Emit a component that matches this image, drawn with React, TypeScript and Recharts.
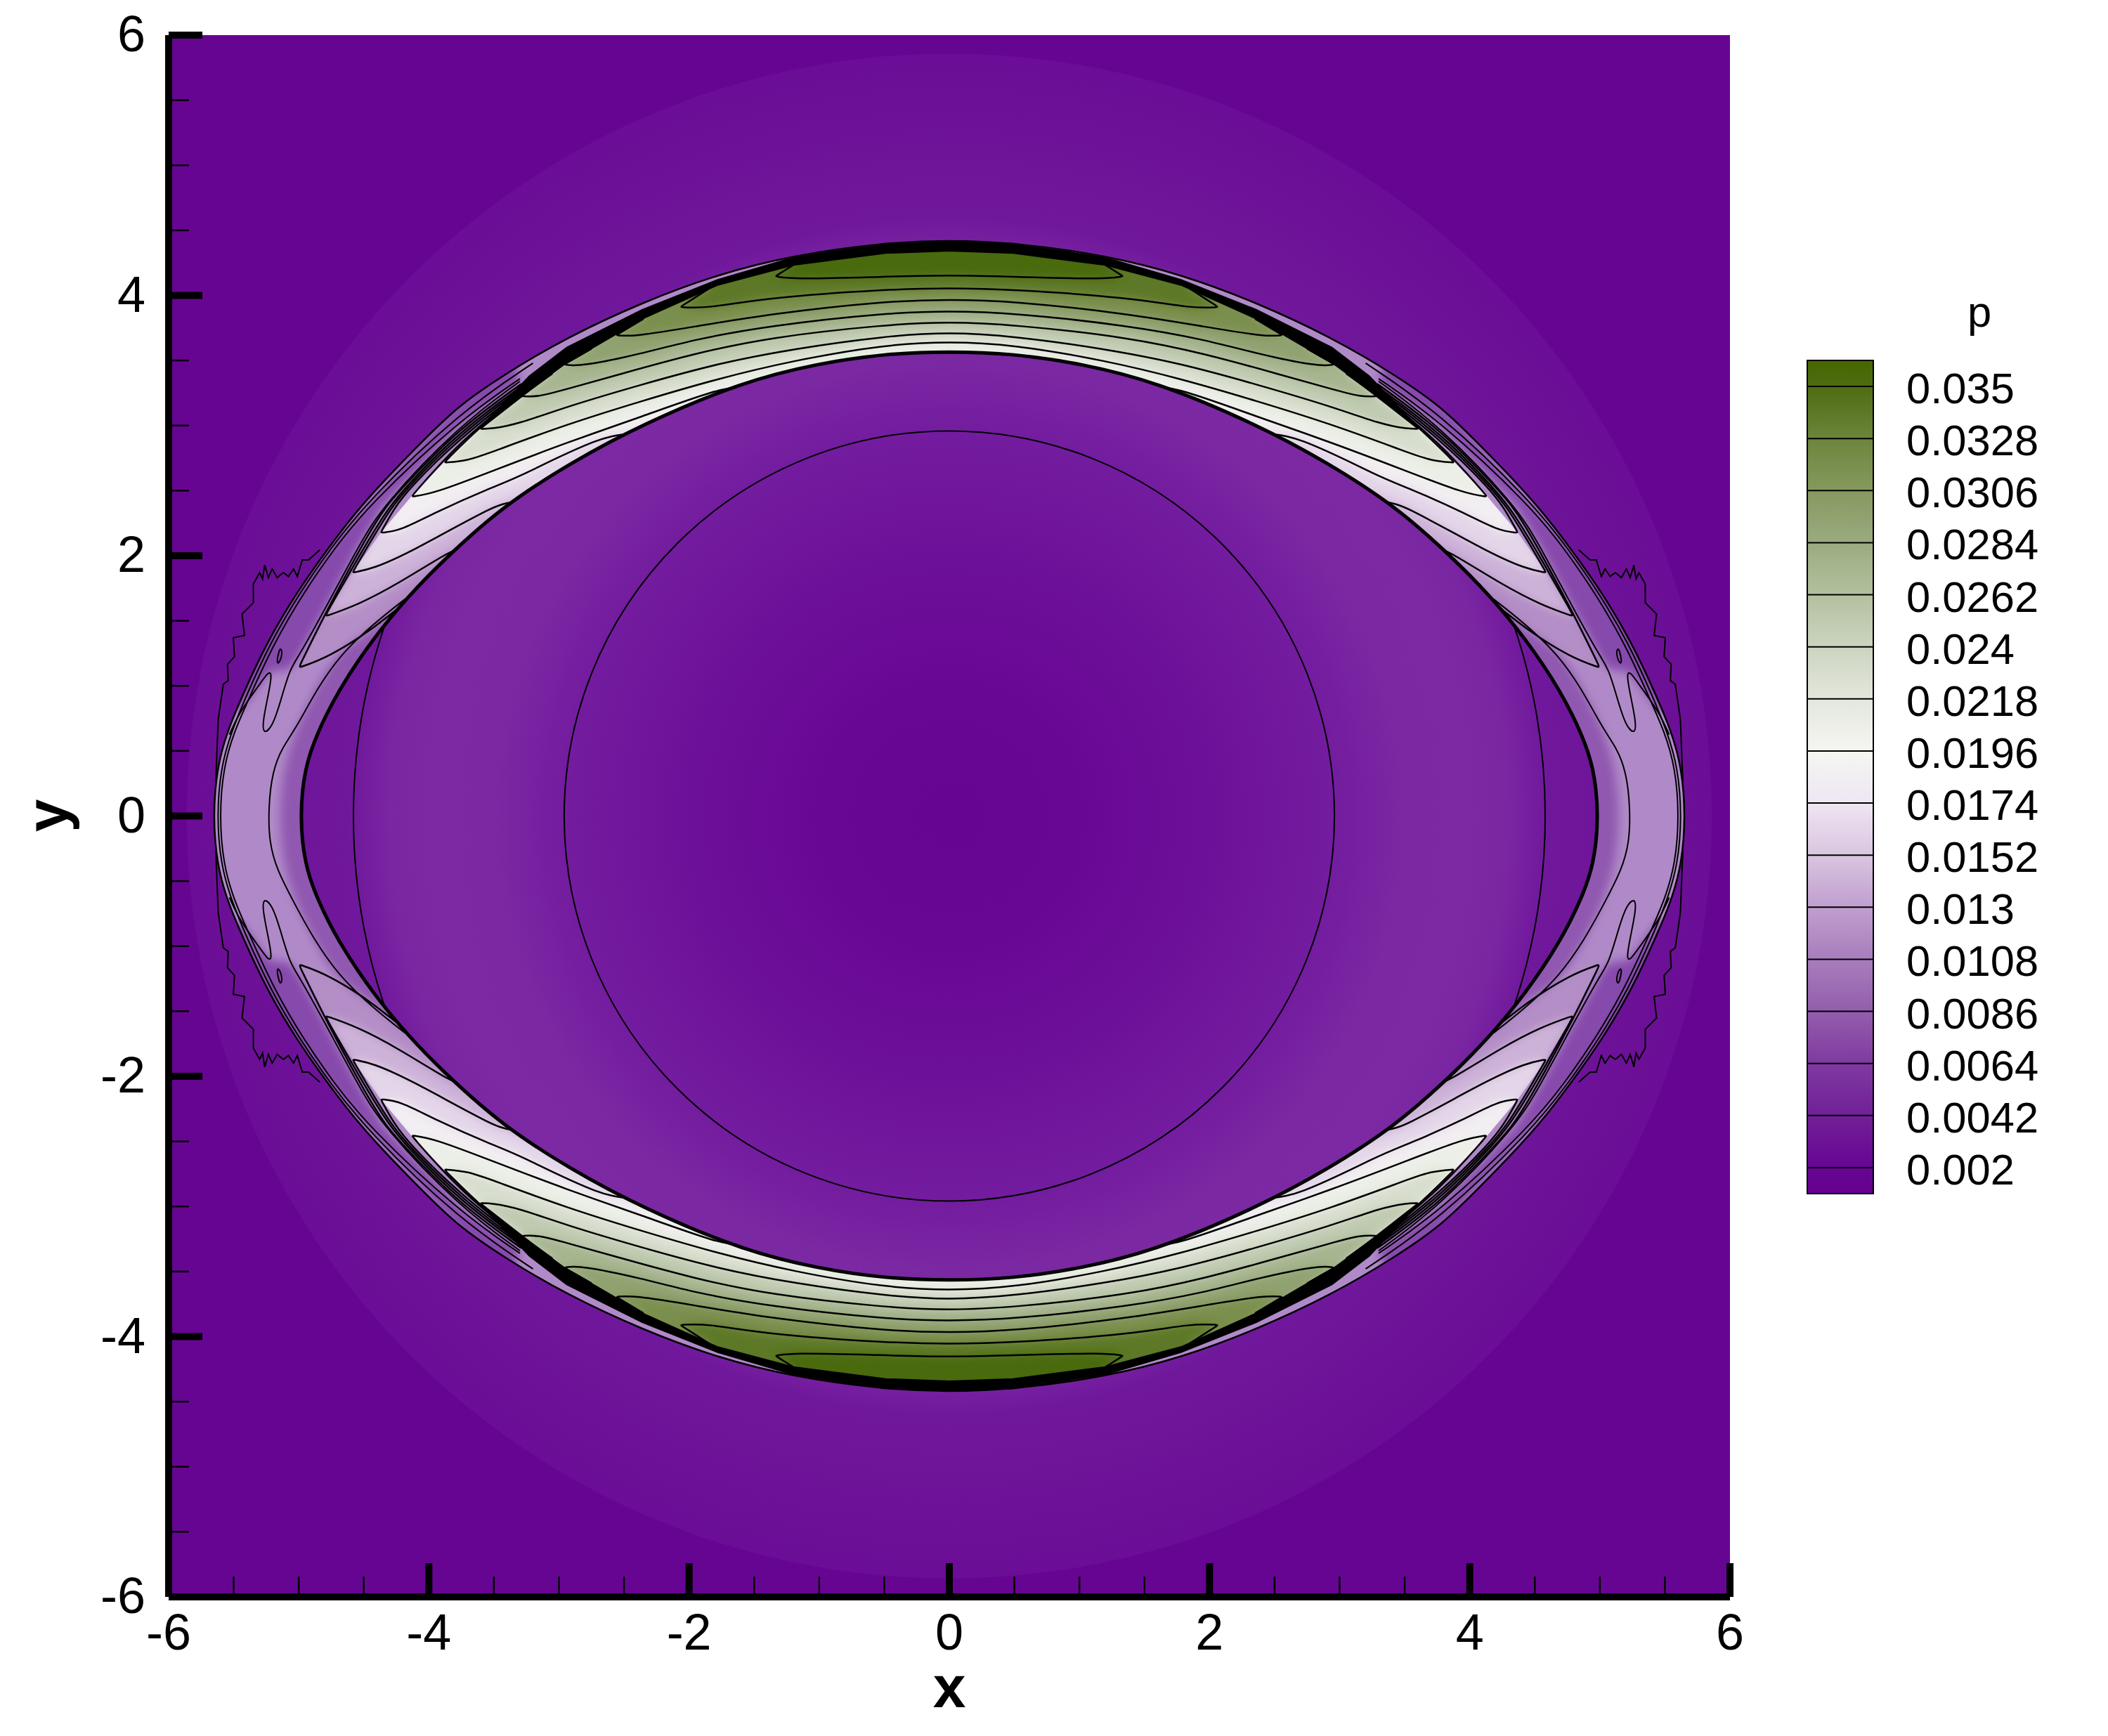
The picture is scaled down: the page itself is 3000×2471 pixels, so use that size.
import { Curve, Scatter, ScatterChart, XAxis, YAxis } from "recharts"

type Pair = [number, number]

const xTicks = [-6, -5.5, -5, -4.5, -4, -3.5, -3, -2.5, -2, -1.5, -1, -0.5, 0, 0.5, 1, 1.5, 2, 2.5, 3, 3.5, 4, 4.5, 5, 5.5, 6]
const yTicks = [-6, -5.5, -5, -4.5, -4, -3.5, -3, -2.5, -2, -1.5, -1, -0.5, 0, 0.5, 1, 1.5, 2, 2.5, 3, 3.5, 4, 4.5, 5, 5.5, 6]
const pLevels = [0.035, 0.0328, 0.0306, 0.0284, 0.0262, 0.024, 0.0218, 0.0196, 0.0174, 0.0152, 0.013, 0.0108, 0.0086, 0.0064, 0.0042, 0.002]
const pColors = ["#4e6c12", "#6c853c", "#86995f", "#9aab7f", "#b3c09f", "#ccd4c0", "#e3e7dc", "#f5f6f2", "#efe6f2", "#d9c5e0", "#c09fcf", "#a87dbc", "#935ead", "#7f3aa0", "#712097", "#670593"]
const pBarRange: Pair = [0.0009, 0.0361]

const plotRect: Pair[] = [[-6, -6], [6, -6], [6, 6], [-6, 6]]
const leftAxisLine: Pair[] = [[-6, -6], [-6, 6]]
const bottomAxisLine: Pair[] = [[-6, -6], [6, -6]]
const discSpan: Pair[] = [[0, 0], [5.86, 0]]
const circleInner: Pair[] = [[0, 0], [2.96, 0]]
const circleOuter: Pair[] = [[0, 0], [4.58, 0]]

const outerLens: Pair[] = [
  [-5.66, 0], [-5.628, 0.378], [-5.55, 0.648], [-5.437, 0.918], [-5.243, 1.339], [-5.01, 1.728], [-4.778, 2.052], [-4.5, 2.42], [-4, 2.93], [-3.77, 3.153], [-3.41, 3.4], [-2.94, 3.677], [-2.36, 3.947], [-1.78, 4.163], [-1.2, 4.309], [-0.49, 4.406], [0, 4.424],
  [0.49, 4.406], [1.2, 4.309], [1.78, 4.163], [2.36, 3.947], [2.94, 3.677], [3.41, 3.4], [3.77, 3.153], [4, 2.93], [4.5, 2.42], [4.778, 2.052], [5.01, 1.728], [5.243, 1.339], [5.437, 0.918], [5.55, 0.648], [5.628, 0.378],
  [5.66, 0], [5.628, -0.378], [5.55, -0.648], [5.437, -0.918], [5.243, -1.339], [5.01, -1.728], [4.778, -2.052], [4.5, -2.42], [4, -2.93], [3.77, -3.153], [3.41, -3.4], [2.94, -3.677], [2.36, -3.947], [1.78, -4.163], [1.2, -4.309], [0.49, -4.406], [0, -4.424],
  [-0.49, -4.406], [-1.2, -4.309], [-1.78, -4.163], [-2.36, -3.947], [-2.94, -3.677], [-3.41, -3.4], [-3.77, -3.153], [-4, -2.93], [-4.5, -2.42], [-4.778, -2.052], [-5.01, -1.728], [-5.243, -1.339], [-5.437, -0.918], [-5.55, -0.648], [-5.628, -0.378],
]
const innerLens: Pair[] = [
  [-4.993, 0], [-4.954, 0.378], [-4.858, 0.637], [-4.703, 0.955], [-4.433, 1.36], [-4.144, 1.706], [-3.855, 1.998], [-3.43, 2.381], [-2.9, 2.72], [-2.36, 3.01], [-1.59, 3.337], [-1.01, 3.477], [-0.49, 3.553], [0, 3.57],
  [0.49, 3.553], [1.01, 3.477], [1.59, 3.337], [2.36, 3.01], [2.9, 2.72], [3.43, 2.381], [3.855, 1.998], [4.144, 1.706], [4.433, 1.36], [4.703, 0.955], [4.858, 0.637], [4.954, 0.378],
  [4.993, 0], [4.954, -0.378], [4.858, -0.637], [4.703, -0.955], [4.433, -1.36], [4.144, -1.706], [3.855, -1.998], [3.43, -2.381], [2.9, -2.72], [2.36, -3.01], [1.59, -3.337], [1.01, -3.477], [0.49, -3.553], [0, -3.57],
  [-0.49, -3.553], [-1.01, -3.477], [-1.59, -3.337], [-2.36, -3.01], [-2.9, -2.72], [-3.43, -2.381], [-3.855, -1.998], [-4.144, -1.706], [-4.433, -1.36], [-4.703, -0.955], [-4.858, -0.637], [-4.954, -0.378],
]
// inner edge of the fan of tight contours, runs through the contour tips
const innerShock: Pair[] = [
  [-5, 1.14], [-4.8, 1.533], [-4.587, 1.87], [-4.37, 2.176], [-4.135, 2.453], [-3.884, 2.715], [-3.607, 2.975], [-3.29, 3.227], [-2.96, 3.47], [-2.36, 3.82], [-1.78, 4.08], [-1.2, 4.233], [-0.49, 4.325], [0, 4.343],
  [0.49, 4.325], [1.2, 4.233], [1.78, 4.08], [2.36, 3.82], [2.96, 3.47], [3.29, 3.227], [3.607, 2.975], [3.884, 2.715], [4.135, 2.453], [4.37, 2.176], [4.587, 1.87], [4.8, 1.533], [5, 1.14],
  [5, -1.14], [4.8, -1.533], [4.587, -1.87], [4.37, -2.176], [4.135, -2.453], [3.884, -2.715], [3.607, -2.975], [3.29, -3.227], [2.96, -3.47], [2.36, -3.82], [1.78, -4.08], [1.2, -4.233], [0.49, -4.325], [0, -4.343],
  [-0.49, -4.325], [-1.2, -4.233], [-1.78, -4.08], [-2.36, -3.82], [-2.96, -3.47], [-3.29, -3.227], [-3.607, -2.975], [-3.884, -2.715], [-4.135, -2.453], [-4.37, -2.176], [-4.587, -1.87], [-4.8, -1.533], [-5, -1.14],
]
const blackBandTop: Pair[] = [
  [-3.6, 2.99], [-3.227, 3.38], [-2.94, 3.6], [-2.36, 3.89], [-1.78, 4.12], [-1.2, 4.29], [-0.49, 4.4], [0, 4.41], [0.49, 4.4], [1.2, 4.29], [1.78, 4.12], [2.36, 3.89], [2.94, 3.6], [3.227, 3.38], [3.6, 2.99],
  [3.29, 3.227], [2.96, 3.47], [2.36, 3.82], [1.78, 4.08], [1.2, 4.233], [0.49, 4.325], [0, 4.343], [-0.49, 4.325], [-1.2, 4.233], [-1.78, 4.08], [-2.36, 3.82], [-2.96, 3.47], [-3.29, 3.227],
]
const blackBandBottom: Pair[] = [
  [-3.6, -2.99], [-3.227, -3.38], [-2.94, -3.6], [-2.36, -3.89], [-1.78, -4.12], [-1.2, -4.29], [-0.49, -4.4], [0, -4.41], [0.49, -4.4], [1.2, -4.29], [1.78, -4.12], [2.36, -3.89], [2.94, -3.6], [3.227, -3.38], [3.6, -2.99],
  [3.29, -3.227], [2.96, -3.47], [2.36, -3.82], [1.78, -4.08], [1.2, -4.233], [0.49, -4.325], [0, -4.343], [-0.49, -4.325], [-1.2, -4.233], [-1.78, -4.08], [-2.36, -3.82], [-2.96, -3.47], [-3.29, -3.227],
]
const outerInsetLeft: Pair[] = [[-3.2, 3.48], [-3.767, 3.1], [-4.47, 2.42], [-4.76, 2.05], [-4.99, 1.72], [-5.22, 1.33], [-5.41, 0.91], [-5.52, 0.64], [-5.6, 0.37], [-5.63, 0], [-5.6, -0.37], [-5.52, -0.64], [-5.41, -0.91], [-5.22, -1.33], [-4.99, -1.72], [-4.76, -2.05], [-4.47, -2.42], [-3.767, -3.1], [-3.2, -3.48]]
const outerInsetRight: Pair[] = [[3.2, 3.48], [3.767, 3.1], [4.47, 2.42], [4.76, 2.05], [4.99, 1.72], [5.22, 1.33], [5.41, 0.91], [5.52, 0.64], [5.6, 0.37], [5.63, 0], [5.6, -0.37], [5.52, -0.64], [5.41, -0.91], [5.22, -1.33], [4.99, -1.72], [4.76, -2.05], [4.47, -2.42], [3.767, -3.1], [3.2, -3.48]]
const secondInsetLeft: Pair[] = [[-3.3, 3.36], [-3.767, 3.04], [-4.47, 2.38], [-4.73, 2.05], [-4.96, 1.72], [-5.19, 1.33], [-5.38, 0.91], [-5.5, 0.64], [-5.58, 0.37], [-5.61, 0], [-5.58, -0.37], [-5.5, -0.64], [-5.38, -0.91], [-5.19, -1.33], [-4.96, -1.72], [-4.73, -2.05], [-4.47, -2.38], [-3.767, -3.04], [-3.3, -3.36]]
const secondInsetRight: Pair[] = [[3.3, 3.36], [3.767, 3.04], [4.47, 2.38], [4.73, 2.05], [4.96, 1.72], [5.19, 1.33], [5.38, 0.91], [5.5, 0.64], [5.58, 0.37], [5.61, 0], [5.58, -0.37], [5.5, -0.64], [5.38, -0.91], [5.19, -1.33], [4.96, -1.72], [4.73, -2.05], [4.47, -2.38], [3.767, -3.04], [3.3, -3.36]]

// darker strip between the outer shock and the fan of contours
const stripTL: Pair[] = [[-5.455, 0.8], [-5.3, 1.012], [-5.22, 1.11], [-5.07, 1.128], [-5.002, 1.224], [-4.819, 1.552], [-4.53, 2.092], [-4.356, 2.381], [-3.767, 3], [-3.3, 3.34], [-3.4, 3.6], [-5.2, 1.6], [-5.6, 0.9]]
const stripTR: Pair[] = [[5.455, 0.8], [5.3, 1.012], [5.22, 1.11], [5.07, 1.128], [5.002, 1.224], [4.819, 1.552], [4.53, 2.092], [4.356, 2.381], [3.767, 3], [3.3, 3.34], [3.4, 3.6], [5.2, 1.6], [5.6, 0.9]]
const stripBL: Pair[] = [[-5.455, -0.8], [-5.3, -1.012], [-5.22, -1.11], [-5.07, -1.128], [-5.002, -1.224], [-4.819, -1.552], [-4.53, -2.092], [-4.356, -2.381], [-3.767, -3], [-3.3, -3.34], [-3.4, -3.6], [-5.2, -1.6], [-5.6, -0.9]]
const stripBR: Pair[] = [[5.455, -0.8], [5.3, -1.012], [5.22, -1.11], [5.07, -1.128], [5.002, -1.224], [4.819, -1.552], [4.53, -2.092], [4.356, -2.381], [3.767, -3], [3.3, -3.34], [3.4, -3.6], [5.2, -1.6], [5.6, -0.9]]

const topD: Pair[] = [[-3.29, 3.32], [-3.767, 2.975], [-4.15, 2.58], [-4.335, 2.381], [-4.51, 2.09], [-4.8, 1.55], [-5, 1.14], [-5, 1.14], [-4.78, 1.215], [-4.43, 1.436], [-4.2, 1.63], [-4, 1.75], [4, 1.75], [4.2, 1.63], [4.43, 1.436], [4.78, 1.215], [5, 1.14], [5, 1.14], [4.8, 1.55], [4.51, 2.09], [4.335, 2.381], [4.15, 2.58], [3.767, 2.975], [3.29, 3.32]]
const topC: Pair[] = [[-3.29, 3.3], [-3.767, 2.95], [-4.15, 2.56], [-4.31, 2.37], [-4.49, 2.08], [-4.8, 1.533], [-4.8, 1.533], [-4.55, 1.62], [-4.24, 1.783], [-3.855, 2.025], [-3.6, 2.15], [3.6, 2.15], [3.855, 2.025], [4.24, 1.783], [4.55, 1.62], [4.8, 1.533], [4.8, 1.533], [4.49, 2.08], [4.31, 2.37], [4.15, 2.56], [3.767, 2.95], [3.29, 3.3]]
const topB: Pair[] = [[-3.29, 3.285], [-3.767, 2.925], [-4.15, 2.54], [-4.29, 2.37], [-4.46, 2.09], [-4.587, 1.87], [-4.587, 1.87], [-4.433, 1.899], [-4.144, 2.025], [-3.507, 2.381], [-3.2, 2.5], [3.2, 2.5], [3.507, 2.381], [4.144, 2.025], [4.433, 1.899], [4.587, 1.87], [4.587, 1.87], [4.46, 2.09], [4.29, 2.37], [4.15, 2.54], [3.767, 2.925], [3.29, 3.285]]
const topA: Pair[] = [[-3.29, 3.27], [-3.767, 2.9], [-4.15, 2.52], [-4.27, 2.36], [-4.37, 2.176], [-4.37, 2.176], [-4.217, 2.192], [-3.96, 2.33], [-3.515, 2.527], [-3.32, 2.597], [-2.686, 2.92], [-2.3, 2.98], [2.3, 2.98], [2.686, 2.92], [3.32, 2.597], [3.515, 2.527], [3.96, 2.33], [4.217, 2.192], [4.37, 2.176], [4.37, 2.176], [4.27, 2.36], [4.15, 2.52], [3.767, 2.9], [3.29, 3.27]]
const topL8: Pair[] = [[-3.29, 3.255], [-3.767, 2.875], [-4.135, 2.453], [-4.135, 2.453], [-3.961, 2.478], [-3.515, 2.65], [-2.94, 2.87], [-2.36, 3.07], [-1.78, 3.28], [-1.5, 3.33], [1.5, 3.33], [1.78, 3.28], [2.36, 3.07], [2.94, 2.87], [3.515, 2.65], [3.961, 2.478], [4.135, 2.453], [4.135, 2.453], [3.767, 2.875], [3.29, 3.255]]
const topL7: Pair[] = [[-3.29, 3.24], [-3.6, 3], [-3.884, 2.715], [-3.884, 2.715], [-3.7, 2.73], [-3.515, 2.797], [-2.94, 3.01], [-2.36, 3.19], [-1.78, 3.36], [-1.2, 3.5], [-0.49, 3.623], [0, 3.646], [0.49, 3.623], [1.2, 3.5], [1.78, 3.36], [2.36, 3.19], [2.94, 3.01], [3.515, 2.797], [3.7, 2.73], [3.884, 2.715], [3.884, 2.715], [3.6, 3], [3.29, 3.24]]
const topL6: Pair[] = [[-3.1, 3.37], [-3.607, 2.975], [-3.607, 2.975], [-3.515, 2.975], [-3.32, 3.01], [-2.94, 3.146], [-2.36, 3.317], [-1.78, 3.477], [-1.2, 3.59], [-0.49, 3.688], [0, 3.718], [0.49, 3.688], [1.2, 3.59], [1.78, 3.477], [2.36, 3.317], [2.94, 3.146], [3.32, 3.01], [3.515, 2.975], [3.607, 2.975], [3.607, 2.975], [3.1, 3.37]]
const topL5: Pair[] = [[-3.05, 3.4], [-3.29, 3.227], [-3.29, 3.227], [-3.17, 3.218], [-2.94, 3.28], [-2.55, 3.39], [-1.97, 3.551], [-1.39, 3.677], [-0.49, 3.776], [0, 3.798], [0.49, 3.776], [1.39, 3.677], [1.97, 3.551], [2.55, 3.39], [2.94, 3.28], [3.17, 3.218], [3.29, 3.227], [3.29, 3.227], [3.05, 3.4]]
const topL4: Pair[] = [[-2.75, 3.59], [-2.96, 3.47], [-2.96, 3.47], [-2.84, 3.452], [-2.36, 3.553], [-1.972, 3.659], [-1.39, 3.767], [-0.49, 3.866], [0, 3.88], [0.49, 3.866], [1.39, 3.767], [1.972, 3.659], [2.36, 3.553], [2.84, 3.452], [2.96, 3.47], [2.96, 3.47], [2.75, 3.59]]
const topL3: Pair[] = [[-2.35, 3.82], [-2.56, 3.695], [-2.56, 3.695], [-2.435, 3.682], [-1.97, 3.758], [-1.39, 3.857], [-0.49, 3.957], [0, 3.969], [0.49, 3.957], [1.39, 3.857], [1.97, 3.758], [2.435, 3.682], [2.56, 3.695], [2.56, 3.695], [2.35, 3.82]]
const topL2: Pair[] = [[-1.85, 4.05], [-2.068, 3.911], [-2.068, 3.911], [-1.876, 3.898], [-1.394, 3.983], [-0.49, 4.046], [0, 4.058], [0.49, 4.046], [1.394, 3.983], [1.876, 3.898], [2.068, 3.911], [2.068, 3.911], [1.85, 4.05]]
const topL1: Pair[] = [[-1.2, 4.233], [-1.336, 4.147], [-1.336, 4.147], [-1.2, 4.125], [-0.6, 4.14], [0, 4.159], [0.6, 4.14], [1.2, 4.125], [1.336, 4.147], [1.336, 4.147], [1.2, 4.233]]

const botD: Pair[] = [[-3.29, -3.32], [-3.767, -2.975], [-4.15, -2.58], [-4.335, -2.381], [-4.51, -2.09], [-4.8, -1.55], [-5, -1.14], [-5, -1.14], [-4.78, -1.215], [-4.43, -1.436], [-4.2, -1.63], [-4, -1.75], [4, -1.75], [4.2, -1.63], [4.43, -1.436], [4.78, -1.215], [5, -1.14], [5, -1.14], [4.8, -1.55], [4.51, -2.09], [4.335, -2.381], [4.15, -2.58], [3.767, -2.975], [3.29, -3.32]]
const botC: Pair[] = [[-3.29, -3.3], [-3.767, -2.95], [-4.15, -2.56], [-4.31, -2.37], [-4.49, -2.08], [-4.8, -1.533], [-4.8, -1.533], [-4.55, -1.62], [-4.24, -1.783], [-3.855, -2.025], [-3.6, -2.15], [3.6, -2.15], [3.855, -2.025], [4.24, -1.783], [4.55, -1.62], [4.8, -1.533], [4.8, -1.533], [4.49, -2.08], [4.31, -2.37], [4.15, -2.56], [3.767, -2.95], [3.29, -3.3]]
const botB: Pair[] = [[-3.29, -3.285], [-3.767, -2.925], [-4.15, -2.54], [-4.29, -2.37], [-4.46, -2.09], [-4.587, -1.87], [-4.587, -1.87], [-4.433, -1.899], [-4.144, -2.025], [-3.507, -2.381], [-3.2, -2.5], [3.2, -2.5], [3.507, -2.381], [4.144, -2.025], [4.433, -1.899], [4.587, -1.87], [4.587, -1.87], [4.46, -2.09], [4.29, -2.37], [4.15, -2.54], [3.767, -2.925], [3.29, -3.285]]
const botA: Pair[] = [[-3.29, -3.27], [-3.767, -2.9], [-4.15, -2.52], [-4.27, -2.36], [-4.37, -2.176], [-4.37, -2.176], [-4.217, -2.192], [-3.96, -2.33], [-3.515, -2.527], [-3.32, -2.597], [-2.686, -2.92], [-2.3, -2.98], [2.3, -2.98], [2.686, -2.92], [3.32, -2.597], [3.515, -2.527], [3.96, -2.33], [4.217, -2.192], [4.37, -2.176], [4.37, -2.176], [4.27, -2.36], [4.15, -2.52], [3.767, -2.9], [3.29, -3.27]]
const botL8: Pair[] = [[-3.29, -3.255], [-3.767, -2.875], [-4.135, -2.453], [-4.135, -2.453], [-3.961, -2.478], [-3.515, -2.65], [-2.94, -2.87], [-2.36, -3.07], [-1.78, -3.28], [-1.5, -3.33], [1.5, -3.33], [1.78, -3.28], [2.36, -3.07], [2.94, -2.87], [3.515, -2.65], [3.961, -2.478], [4.135, -2.453], [4.135, -2.453], [3.767, -2.875], [3.29, -3.255]]
const botL7: Pair[] = [[-3.29, -3.24], [-3.6, -3], [-3.884, -2.715], [-3.884, -2.715], [-3.7, -2.73], [-3.515, -2.797], [-2.94, -3.01], [-2.36, -3.19], [-1.78, -3.36], [-1.2, -3.5], [-0.49, -3.623], [0, -3.646], [0.49, -3.623], [1.2, -3.5], [1.78, -3.36], [2.36, -3.19], [2.94, -3.01], [3.515, -2.797], [3.7, -2.73], [3.884, -2.715], [3.884, -2.715], [3.6, -3], [3.29, -3.24]]
const botL6: Pair[] = [[-3.1, -3.37], [-3.607, -2.975], [-3.607, -2.975], [-3.515, -2.975], [-3.32, -3.01], [-2.94, -3.146], [-2.36, -3.317], [-1.78, -3.477], [-1.2, -3.59], [-0.49, -3.688], [0, -3.718], [0.49, -3.688], [1.2, -3.59], [1.78, -3.477], [2.36, -3.317], [2.94, -3.146], [3.32, -3.01], [3.515, -2.975], [3.607, -2.975], [3.607, -2.975], [3.1, -3.37]]
const botL5: Pair[] = [[-3.05, -3.4], [-3.29, -3.227], [-3.29, -3.227], [-3.17, -3.218], [-2.94, -3.28], [-2.55, -3.39], [-1.97, -3.551], [-1.39, -3.677], [-0.49, -3.776], [0, -3.798], [0.49, -3.776], [1.39, -3.677], [1.97, -3.551], [2.55, -3.39], [2.94, -3.28], [3.17, -3.218], [3.29, -3.227], [3.29, -3.227], [3.05, -3.4]]
const botL4: Pair[] = [[-2.75, -3.59], [-2.96, -3.47], [-2.96, -3.47], [-2.84, -3.452], [-2.36, -3.553], [-1.972, -3.659], [-1.39, -3.767], [-0.49, -3.866], [0, -3.88], [0.49, -3.866], [1.39, -3.767], [1.972, -3.659], [2.36, -3.553], [2.84, -3.452], [2.96, -3.47], [2.96, -3.47], [2.75, -3.59]]
const botL3: Pair[] = [[-2.35, -3.82], [-2.56, -3.695], [-2.56, -3.695], [-2.435, -3.682], [-1.97, -3.758], [-1.39, -3.857], [-0.49, -3.957], [0, -3.969], [0.49, -3.957], [1.39, -3.857], [1.97, -3.758], [2.435, -3.682], [2.56, -3.695], [2.56, -3.695], [2.35, -3.82]]
const botL2: Pair[] = [[-1.85, -4.05], [-2.068, -3.911], [-2.068, -3.911], [-1.876, -3.898], [-1.394, -3.983], [-0.49, -4.046], [0, -4.058], [0.49, -4.046], [1.394, -3.983], [1.876, -3.898], [2.068, -3.911], [2.068, -3.911], [1.85, -4.05]]
const botL1: Pair[] = [[-1.2, -4.233], [-1.336, -4.147], [-1.336, -4.147], [-1.2, -4.125], [-0.6, -4.14], [0, -4.159], [0.6, -4.14], [1.2, -4.125], [1.336, -4.147], [1.336, -4.147], [1.2, -4.233]]

const bandColors = ["#b48ec6", "#cdb2d8", "#e4d6e9", "#f2eef2", "#ecefe7", "#d8dece", "#bfcab0", "#a6b58f", "#90a26f", "#7a8f4e", "#5d7827", "#4a6a08"]
const topBands = [topD, topC, topB, topA, topL8, topL7, topL6, topL5, topL4, topL3, topL2, topL1]
const botBands = [botD, botC, botB, botA, botL8, botL7, botL6, botL5, botL4, botL3, botL2, botL1]

const ringLeft: Pair[] = [[-4.182, 1.668], [-4.722, 1.243], [-5.011, 0.684], [-5.127, 0.53], [-5.204, 0.337], [-5.233, 0.067], [-5.228, -0.203], [-5.166, -0.415], [-5.05, -0.643], [-4.722, -1.243], [-4.182, -1.668]]
const ringRight: Pair[] = [[4.182, 1.668], [4.722, 1.243], [5.011, 0.684], [5.127, 0.53], [5.204, 0.337], [5.233, 0.067], [5.228, -0.203], [5.166, -0.415], [5.05, -0.643], [4.722, -1.243], [4.182, -1.668]]

const lobeTL: Pair[] = [[-3.3, 3.34], [-3.767, 3], [-4.356, 2.381], [-4.53, 2.092], [-4.819, 1.552], [-5.002, 1.224], [-5.07, 1.128], [-5.146, 0.858], [-5.204, 0.684], [-5.272, 0.626], [-5.278, 0.723], [-5.233, 0.935], [-5.204, 1.099], [-5.233, 1.109], [-5.3, 1.012], [-5.455, 0.8], [-5.533, 0.626]]
const lobeTR: Pair[] = [[3.3, 3.34], [3.767, 3], [4.356, 2.381], [4.53, 2.092], [4.819, 1.552], [5.002, 1.224], [5.07, 1.128], [5.146, 0.858], [5.204, 0.684], [5.272, 0.626], [5.278, 0.723], [5.233, 0.935], [5.204, 1.099], [5.233, 1.109], [5.3, 1.012], [5.455, 0.8], [5.533, 0.626]]
const lobeBL: Pair[] = [[-3.3, -3.34], [-3.767, -3], [-4.356, -2.381], [-4.53, -2.092], [-4.819, -1.552], [-5.002, -1.224], [-5.07, -1.128], [-5.146, -0.858], [-5.204, -0.684], [-5.272, -0.626], [-5.278, -0.723], [-5.233, -0.935], [-5.204, -1.099], [-5.233, -1.109], [-5.3, -1.012], [-5.455, -0.8], [-5.533, -0.626]]
const lobeBR: Pair[] = [[3.3, -3.34], [3.767, -3], [4.356, -2.381], [4.53, -2.092], [4.819, -1.552], [5.002, -1.224], [5.07, -1.128], [5.146, -0.858], [5.204, -0.684], [5.272, -0.626], [5.278, -0.723], [5.233, -0.935], [5.204, -1.099], [5.233, -1.109], [5.3, -1.012], [5.455, -0.8], [5.533, -0.626]]

const islandTL: Pair[] = [[-5.137, 1.292], [-5.124, 1.244], [-5.156, 1.163], [-5.17, 1.186], [-5.151, 1.272]]
const islandTR: Pair[] = [[5.137, 1.292], [5.124, 1.244], [5.156, 1.163], [5.17, 1.186], [5.151, 1.272]]
const islandBL: Pair[] = [[-5.137, -1.292], [-5.124, -1.244], [-5.156, -1.163], [-5.17, -1.186], [-5.151, -1.272]]
const islandBR: Pair[] = [[5.137, -1.292], [5.124, -1.244], [5.156, -1.163], [5.17, -1.186], [5.151, -1.272]]

const jaggedTL: Pair[] = [[-5.638, 0.26], [-5.619, 0.742], [-5.58, 1.012], [-5.542, 1.041], [-5.548, 1.166], [-5.494, 1.224], [-5.503, 1.369], [-5.417, 1.388], [-5.436, 1.552], [-5.349, 1.639], [-5.349, 1.783], [-5.3, 1.87], [-5.278, 1.822], [-5.262, 1.928], [-5.233, 1.832], [-5.204, 1.899], [-5.166, 1.832], [-5.118, 1.87], [-5.079, 1.841], [-5.04, 1.899], [-5.011, 1.841], [-4.973, 1.967], [-4.925, 1.967], [-4.838, 2.044]]
const jaggedTR: Pair[] = [[5.638, 0.26], [5.619, 0.742], [5.58, 1.012], [5.542, 1.041], [5.548, 1.166], [5.494, 1.224], [5.503, 1.369], [5.417, 1.388], [5.436, 1.552], [5.349, 1.639], [5.349, 1.783], [5.3, 1.87], [5.278, 1.822], [5.262, 1.928], [5.233, 1.832], [5.204, 1.899], [5.166, 1.832], [5.118, 1.87], [5.079, 1.841], [5.04, 1.899], [5.011, 1.841], [4.973, 1.967], [4.925, 1.967], [4.838, 2.044]]
const jaggedBL: Pair[] = [[-5.638, -0.26], [-5.619, -0.742], [-5.58, -1.012], [-5.542, -1.041], [-5.548, -1.166], [-5.494, -1.224], [-5.503, -1.369], [-5.417, -1.388], [-5.436, -1.552], [-5.349, -1.639], [-5.349, -1.783], [-5.3, -1.87], [-5.278, -1.822], [-5.262, -1.928], [-5.233, -1.832], [-5.204, -1.899], [-5.166, -1.832], [-5.118, -1.87], [-5.079, -1.841], [-5.04, -1.899], [-5.011, -1.841], [-4.973, -1.967], [-4.925, -1.967], [-4.838, -2.044]]
const jaggedBR: Pair[] = [[5.638, -0.26], [5.619, -0.742], [5.58, -1.012], [5.542, -1.041], [5.548, -1.166], [5.494, -1.224], [5.503, -1.369], [5.417, -1.388], [5.436, -1.552], [5.349, -1.639], [5.349, -1.783], [5.3, -1.87], [5.278, -1.822], [5.262, -1.928], [5.233, -1.832], [5.204, -1.899], [5.166, -1.832], [5.118, -1.87], [5.079, -1.841], [5.04, -1.899], [5.011, -1.841], [4.973, -1.967], [4.925, -1.967], [4.838, -2.044]]

const FONT = "'Liberation Sans', Arial, sans-serif"
const NoDot = () => <g />
const toPoints = (pairs: Pair[]) => pairs.map(([x, y]) => ({ x, y }))

// closes a contour along the plot edge; the clip trims it back to the shock
const closedToEdge = (pairs: Pair[], edge: number): Pair[] => [...pairs, [pairs[pairs.length - 1][0], edge], [pairs[0][0], edge]]

function series(key: string, pairs: Pair[], line: any, jointType = "basis") {
  return <Scatter key={key} data={toPoints(pairs)} shape={NoDot} line={line} lineJointType={jointType as any} isAnimationActive={false} />
}

function stroke(key: string, pairs: Pair[], width = 2, jointType = "basis") {
  return series(key, pairs, { stroke: "#000", strokeWidth: width, fill: "none" }, jointType)
}

function clipSeries(id: string, pairs: Pair[], jointType = "basisClosed") {
  return series("clip-" + id, pairs, (p: any) => (
    <clipPath id={id}>
      <Curve points={p.points} type={jointType as any} />
    </clipPath>
  ))
}

function softFill(key: string, pairs: Pair[], color: string, clip: string) {
  return series(key, pairs, (p: any) => (
    <g clipPath={`url(#${clip})`}>
      <g filter="url(#soft)">
        <Curve points={p.points} type="linearClosed" fill={color} stroke="none" />
      </g>
    </g>
  ))
}

function plainFill(key: string, pairs: Pair[], color: string, jointType = "linearClosed", edge = "none") {
  return series(key, pairs, (p: any) => <Curve points={p.points} type={jointType as any} fill={color} stroke={edge} strokeWidth={edge === "none" ? 0 : 2} />)
}

function disc(key: string, span: Pair[], paint: { fill: string; stroke?: string; strokeWidth?: number }, clip?: string) {
  return series(key, span, (p: any) => (
    <g clipPath={clip ? `url(#${clip})` : undefined}>
      <circle cx={p.points[0].x} cy={p.points[0].y} r={Math.abs(p.points[1].x - p.points[0].x)} {...paint} />
    </g>
  ))
}

function XTick({ x, y, payload }: any) {
  const major = payload.value % 2 === 0
  return (
    <g>
      <line x1={x} x2={x} y1={y} y2={y - (major ? 48 : 29)} stroke="#000" strokeWidth={major ? 10 : 2.5} />
      {major && (
        <text x={x} y={y + 75} textAnchor="middle" fontFamily={FONT} fontSize={72} fill="#000">
          {payload.value}
        </text>
      )}
    </g>
  )
}

function YTick({ x, y, payload }: any) {
  const major = payload.value % 2 === 0
  return (
    <g>
      <line x1={x} x2={x + (major ? 48 : 29)} y1={y} y2={y} stroke="#000" strokeWidth={major ? 10 : 2.5} />
      {major && (
        <text x={x - 33} y={y + 23} textAnchor="end" fontFamily={FONT} fontSize={72} fill="#000">
          {payload.value}
        </text>
      )}
    </g>
  )
}

function BarTick({ x, y, payload }: any) {
  return (
    <text x={x + 47} y={y + 24} fontFamily={FONT} fontSize={61.5} fill="#000">
      {payload.value}
    </text>
  )
}

function PressureBar() {
  const [low, high] = pBarRange
  const barRect: Pair[] = [[0, low], [1, low], [1, high], [0, high]]
  return (
    <div style={{ position: "absolute", left: 2540, top: 400 }}>
      <ScatterChart width={430} height={1310} margin={{ top: 113, right: 0, bottom: 11, left: 32 }}>
        <defs>
          <linearGradient id="barFill" x1="0" y1="0" x2="0" y2="1">
            <stop offset="0" stopColor="#466600" />
            {pLevels.map((level, i) => (
              <stop key={level} offset={(high - level) / (high - low)} stopColor={pColors[i]} />
            ))}
            <stop offset="1" stopColor="#660090" />
          </linearGradient>
        </defs>
        <XAxis type="number" dataKey="x" domain={[0, 1]} hide />
        <YAxis
          type="number"
          dataKey="y"
          orientation="right"
          domain={pBarRange}
          ticks={pLevels}
          width={304}
          interval={0}
          axisLine={false}
          tickLine={false}
          tickSize={0}
          tickMargin={0}
          tick={BarTick}
        />
        {plainFill("bar", barRect, "url(#barFill)", "linearClosed", "#000")}
        {pLevels.map((level) => stroke("bar" + level, [[0, level], [1, level]], 2, "linear"))}
        <text x={277} y={65} textAnchor="middle" fontFamily={FONT} fontSize={61.5} fill="#000">
          p
        </text>
      </ScatterChart>
    </div>
  )
}

export default function App() {
  return (
    <div style={{ position: "absolute", left: 0, top: 0, width: 3000, height: 2471, background: "#fff" }}>
      <ScatterChart width={3000} height={2471} margin={{ top: 50, right: 538, bottom: 8, left: 40 }}>
        <defs>
          <filter id="soft" filterUnits="userSpaceOnUse" x="0" y="0" width="3000" height="2471">
            <feGaussianBlur stdDeviation="7" />
          </filter>
          <radialGradient id="discFill">
            <stop offset="0" stopColor="#670593" />
            <stop offset="0.17" stopColor="#690795" />
            <stop offset="0.34" stopColor="#6d1099" />
            <stop offset="0.505" stopColor="#731c9f" />
            <stop offset="0.597" stopColor="#7b28a3" />
            <stop offset="0.683" stopColor="#7c29a3" />
            <stop offset="0.734" stopColor="#7a26a2" />
            <stop offset="0.785" stopColor="#70189c" />
            <stop offset="0.853" stopColor="#6e1599" />
            <stop offset="1" stopColor="#6b0d96" />
          </radialGradient>
        </defs>
        <XAxis
          type="number"
          dataKey="x"
          domain={[-6, 6]}
          ticks={xTicks}
          interval={0}
          height={190}
          axisLine={false}
          tickLine={false}
          tickSize={0}
          tickMargin={0}
          tick={XTick}
        />
        <YAxis
          type="number"
          dataKey="y"
          domain={[-6, 6]}
          ticks={yTicks}
          interval={0}
          width={200}
          axisLine={false}
          tickLine={false}
          tickSize={0}
          tickMargin={0}
          tick={YTick}
        />

        {plainFill("plot", plotRect, "#670593")}
        {disc("disc", discSpan, { fill: "url(#discFill)" })}
        {clipSeries("outerClip", outerLens)}
        {clipSeries("innerClip", innerLens)}
        {clipSeries("shockClip", innerShock, "linearClosed")}

        {plainFill("lens", outerLens, "#b08ac8", "basisClosed")}
        {series("rim", innerLens, (p: any) => (
          <g clipPath="url(#outerClip)">
            <g filter="url(#soft)">
              <Curve points={p.points} type="basisClosed" fill="none" stroke="#9058b0" strokeWidth={60} />
            </g>
          </g>
        ))}
        {softFill("stripTL", stripTL, "#864aac", "outerClip")}
        {softFill("stripTR", stripTR, "#864aac", "outerClip")}
        {softFill("stripBL", stripBL, "#864aac", "outerClip")}
        {softFill("stripBR", stripBR, "#864aac", "outerClip")}

        {topBands.map((band, i) => softFill("top" + i, closedToEdge(band, 6), bandColors[i], "shockClip"))}
        {botBands.map((band, i) => softFill("bot" + i, closedToEdge(band, -6), bandColors[i], "shockClip"))}
        {topBands.map((band, i) => stroke("topLine" + i, band, 2.5))}
        {botBands.map((band, i) => stroke("botLine" + i, band, 2.5))}
        {stroke("ringLeft", ringLeft)}
        {stroke("ringRight", ringRight)}

        {disc("discInner", discSpan, { fill: "url(#discFill)" }, "innerClip")}
        {disc("circleInner", circleInner, { fill: "none", stroke: "#000", strokeWidth: 2 }, "innerClip")}
        {disc("circleOuter", circleOuter, { fill: "none", stroke: "#000", strokeWidth: 2 }, "innerClip")}

        {stroke("lobeTL", lobeTL)}
        {stroke("lobeTR", lobeTR)}
        {stroke("lobeBL", lobeBL)}
        {stroke("lobeBR", lobeBR)}
        {stroke("islandTL", islandTL, 2, "basisClosed")}
        {stroke("islandTR", islandTR, 2, "basisClosed")}
        {stroke("islandBL", islandBL, 2, "basisClosed")}
        {stroke("islandBR", islandBR, 2, "basisClosed")}
        {stroke("jaggedTL", jaggedTL, 2, "linear")}
        {stroke("jaggedTR", jaggedTR, 2, "linear")}
        {stroke("jaggedBL", jaggedBL, 2, "linear")}
        {stroke("jaggedBR", jaggedBR, 2, "linear")}

        {plainFill("bandTop", blackBandTop, "#000", "linearClosed", "#000")}
        {plainFill("bandBottom", blackBandBottom, "#000", "linearClosed", "#000")}
        {stroke("outerInsetLeft", outerInsetLeft)}
        {stroke("outerInsetRight", outerInsetRight)}
        {stroke("secondInsetLeft", secondInsetLeft)}
        {stroke("secondInsetRight", secondInsetRight)}
        {stroke("outerShock", outerLens, 2.5, "basisClosed")}
        {stroke("innerBoundary", innerLens, 5, "basisClosed")}

        {stroke("leftAxisLine", leftAxisLine, 10, "linear")}
        {stroke("bottomAxisLine", bottomAxisLine, 10, "linear")}

        <text x={1351} y={2430} textAnchor="middle" fontFamily={FONT} fontSize={84} fontWeight={700} fill="#000">
          x
        </text>
        <text x={96} y={1161} textAnchor="middle" transform="rotate(-90 96 1161)" fontFamily={FONT} fontSize={84} fontWeight={700} fill="#000">
          y
        </text>
      </ScatterChart>
      <PressureBar />
    </div>
  )
}
